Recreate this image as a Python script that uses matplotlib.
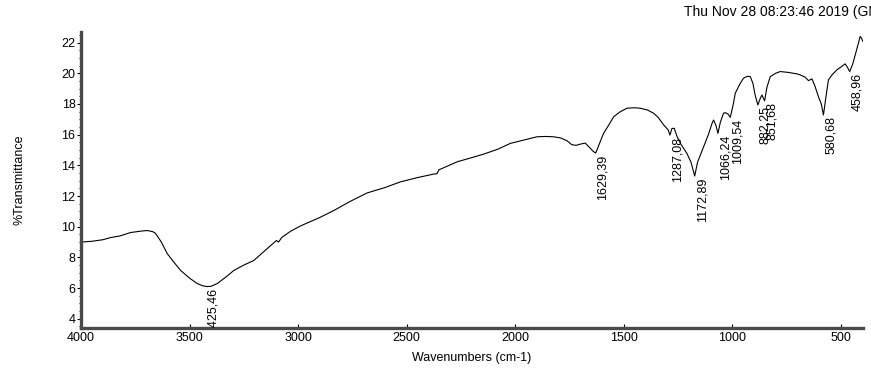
import numpy as np
import matplotlib
matplotlib.use('Agg')
import matplotlib.pyplot as plt
from matplotlib.ticker import MultipleLocator
from matplotlib.transforms import offset_copy

plt.rcParams['font.family'] = ['Liberation Sans', 'DejaVu Sans']

# spectrum (wavenumber, %T)
wavenumber = [4000, 3950, 3900, 3864, 3820, 3772, 3720, 3695, 3670, 3657, 3630, 3603,
              3570, 3541, 3500, 3465, 3440, 3418, 3400, 3372, 3330, 3296, 3250, 3204,
              3160, 3112, 3100, 3090, 3075, 3035, 2989, 2900, 2836, 2760, 2682, 2600,
              2529, 2450, 2375, 2360, 2352, 2320, 2267, 2200, 2145, 2080, 2022, 1960,
              1899, 1860, 1823, 1790, 1761, 1740, 1720, 1700, 1677, 1660, 1640, 1629,
              1615, 1593, 1570, 1546, 1515, 1485, 1450, 1424, 1390, 1362, 1340, 1316,
              1295, 1287, 1278, 1267, 1255, 1239, 1209, 1190, 1173, 1160, 1132, 1110,
              1093, 1086, 1075, 1066, 1055, 1040, 1032, 1020, 1009, 995, 986, 965,
              948, 930, 917, 905, 895, 882, 870, 863, 851, 840, 825, 800,
              779, 740, 700, 687, 665, 649, 633, 620, 603, 590, 580, 570,
              557, 540, 518, 500, 480, 470, 459, 445, 427, 418, 411, 405, 398]
transmittance = [9.0, 9.05, 9.15, 9.29, 9.4, 9.62, 9.72, 9.75, 9.68, 9.57, 9.0, 8.25,
                 7.65, 7.15, 6.65, 6.3, 6.15, 6.1, 6.12, 6.3, 6.75, 7.15, 7.5, 7.8,
                 8.35, 8.95, 9.1, 9.0, 9.3, 9.7, 10.05, 10.6, 11.05, 11.65, 12.2, 12.55,
                 12.92, 13.2, 13.43, 13.45, 13.7, 13.9, 14.23, 14.5, 14.73, 15.05, 15.43, 15.65,
                 15.86, 15.88, 15.86, 15.78, 15.6, 15.35, 15.3, 15.38, 15.45, 15.2, 14.9, 14.8,
                 15.3, 16.08, 16.6, 17.17, 17.5, 17.72, 17.75, 17.72, 17.6, 17.39, 17.1, 16.63,
                 16.3, 15.97, 16.4, 16.41, 15.9, 15.43, 14.78, 14.2, 13.3, 14.2, 15.2, 16.0,
                 16.74, 16.95, 16.6, 16.08, 16.8, 17.4, 17.43, 17.35, 17.13, 18.0, 18.7, 19.3,
                 19.68, 19.8, 19.78, 19.35, 18.6, 17.93, 18.4, 18.58, 18.2, 19.1, 19.78, 20.0,
                 20.11, 20.05, 19.95, 19.89, 19.75, 19.52, 19.63, 19.2, 18.47, 18.0, 17.28, 18.3,
                 19.57, 19.9, 20.22, 20.4, 20.61, 20.4, 20.11, 20.6, 21.52, 22.0, 22.39, 22.3, 22.07]

peak_wn = [3425.46, 1629.39, 1287.08, 1172.89, 1066.24, 1009.54, 882.25, 851.68, 580.68, 458.96]
peak_t = [6.1, 14.8, 15.97, 13.3, 16.08, 17.13, 17.93, 18.2, 17.28, 20.11]

fig = plt.figure(figsize=(8.71, 3.74), dpi=100)
ax = fig.add_axes([0.093, 0.123, 0.898, 0.792])

ax.plot(wavenumber, transmittance, color='black', linewidth=0.8)

# peak labels, rotated, hanging just under each minimum
lab_tr = offset_copy(ax.transData, fig=fig, x=1, y=-1, units='points')
for wn, t in zip(peak_wn, peak_t):
    ax.text(wn, t, f'{wn:.2f}'.replace('.', ','), transform=lab_tr, rotation=90,
            ha='left', va='top', fontsize=9, clip_on=True)

ax.set_xlim(4000, 397)
ax.set_ylim(3.4, 22.7)
ax.set_xticks([4000, 3500, 3000, 2500, 2000, 1500, 1000, 500])
ax.set_yticks(range(4, 23, 2))
ax.yaxis.set_minor_locator(MultipleLocator(0.5))

for side in ['top', 'right']:
    ax.spines[side].set_visible(False)
for side in ['left', 'bottom']:
    ax.spines[side].set_linewidth(2.4)
    ax.spines[side].set_color('#4a4a4a')

ax.tick_params(axis='y', which='major', direction='out', length=3, width=0.8,
               labelsize=9, pad=1)
ax.tick_params(axis='y', which='minor', direction='out', length=1.5, width=0.6)
ax.tick_params(axis='x', which='major', direction='in', length=3, width=0.8,
               labelsize=9, pad=3)

ax.set_xlabel('Wavenumbers (cm-1)', fontsize=9, labelpad=6)
ax.set_ylabel('%Transmittance', fontsize=9, labelpad=26)

# timestamp runs off the right edge, as in the original export
fig.text(684 / 871, 1 - 12 / 374, 'Thu Nov 28 08:23:46 2019 (GMT+01:00)',
         fontsize=10, ha='left', va='center')

plt.savefig('out.png', dpi=100)
